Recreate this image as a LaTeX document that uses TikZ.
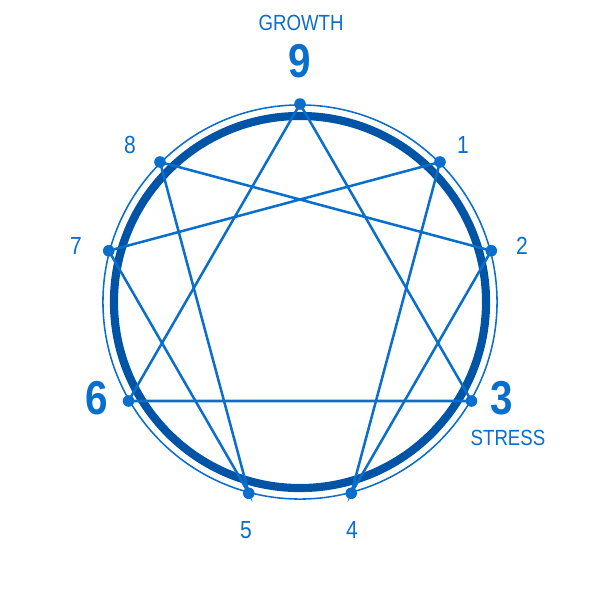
\documentclass[tikz,border=0pt]{standalone}
\usepackage{fontspec}
\setmainfont[FakeStretch=0.85]{Liberation Sans}
\definecolor{lineblue}{RGB}{10,110,204}
\definecolor{ringblue}{RGB}{0,84,166}
\begin{document}
\begin{tikzpicture}[x=0.025cm,y=-0.025cm,
  pt/.style={circle,fill=lineblue,inner sep=0pt,minimum size=0.29cm},
  conn/.style={draw=lineblue,line width=1.8pt},
  small/.style={text=lineblue,font=\fontsize{17.6}{20}\selectfont,inner sep=0pt},
  big/.style={text=lineblue,font=\fontsize{33.8}{38}\bfseries\selectfont,inner sep=0pt},
  word/.style={text=lineblue,font=\fontsize{15.6}{18}\selectfont,inner sep=0pt}]
\useasboundingbox (0,0) rectangle (600,600);
\coordinate (c) at (300,302);
\draw[lineblue,line width=1.1pt] (c) circle[radius=4.925cm];
\draw[ringblue,line width=5.8pt] (c) circle[radius=4.65cm];
\foreach \n/\a in {9/0,1/45,2/75,3/120,4/165,5/195,6/240,7/285,8/315}{
  \coordinate (p\n) at ({300+198*sin(\a)},{302-198*cos(\a)});
}
\draw[conn] (p9) -- (p3) -- (p6) -- cycle;
\draw[conn] (p1) -- (p4) -- (p2) -- (p8) -- (p5) -- (p7) -- cycle;
\foreach \n in {1,...,9}{\node[pt] (d\n) at (p\n) {};}
\node[word] (growth) at (301,23) {GROWTH};
\node[big] (l9) at (300,61) {9};
\node[big] (l3) at (502,398) {3};
\node[big] (l6) at (97,398) {6};
\node[word] (stress) at (508,438) {STRESS};
\node[small] (l1) at (463,145) {1};
\node[small] (l2) at (522,246) {2};
\node[small] (l7) at (76,246) {7};
\node[small] (l8) at (130,145) {8};
\node[small] (l5) at (246,530) {5};
\node[small] (l4) at (352,530) {4};
\end{tikzpicture}
\end{document}
